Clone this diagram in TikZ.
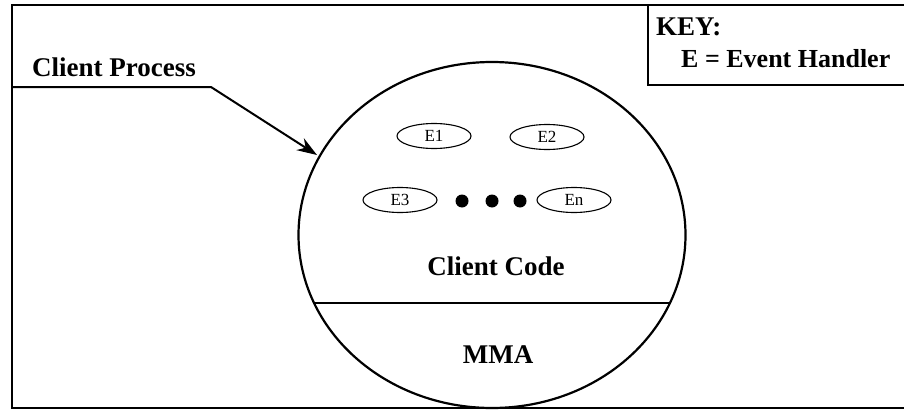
\documentclass[tikz,border=0pt]{standalone}
\usepackage{fontspec}
\setmainfont{Liberation Serif}
\usetikzlibrary{arrows.meta,shapes.geometric}
\begin{document}
\begin{tikzpicture}[x=1pt,y=-1pt,
  handler/.style={draw,line width=1.1pt,ellipse,minimum width=74pt,minimum height=25pt,inner sep=0pt,font=\fontsize{17}{17}\selectfont},
  dotnode/.style={circle,fill=black,minimum size=13pt,inner sep=0pt},
  bigtext/.style={font=\fontsize{27}{29}\selectfont\bfseries,inner sep=0pt}]
\useasboundingbox (0,0) rectangle (904,412);
\clip (0,0) rectangle (904,412);
% outer frame
\draw[line width=1.8pt] (12,5) rectangle (912,408);
% key box
\draw[line width=1.5pt] (648,5) rectangle (912,85);
\node[bigtext,anchor=base west] (key) at (656,36) {KEY:};
\node[bigtext,anchor=base west,font=\fontsize{26}{28}\selectfont\bfseries] (keye) at (681,67) {E = Event Handler};
% client process label
\node[bigtext,anchor=base west] (cp) at (32,77) {Client Process};
\coordinate (l0) at (12,87);
\coordinate (l1) at (211,87);
\coordinate (tip) at (317,155);
\draw[line width=2pt,-{Stealth[length=20pt,width=14pt]}] (l0) -- (l1) -- (tip);
% circle
\node[draw,line width=2.2pt,ellipse,minimum width=387pt,minimum height=346pt,inner sep=0pt] (circ) at (492,235) {};
\coordinate (hl) at (314,303);
\coordinate (hr) at (670,303);
\draw[line width=2pt] (hl) -- (hr);
% handlers
\node[handler] (e1) at (434,136) {E1};
\node[handler] (e2) at (547,137) {E2};
\node[handler] (e3) at (400,200) {E3};
\node[handler] (en) at (574,200) {En};
\node[dotnode] (d1) at (462,201) {};
\node[dotnode] (d2) at (492,201) {};
\node[dotnode] (d3) at (520,201) {};
% texts
\node[bigtext,anchor=base] (cc) at (496,275) {Client Code};
\node[bigtext,anchor=base] (mma) at (498,363) {MMA};
\end{tikzpicture}
\end{document}
